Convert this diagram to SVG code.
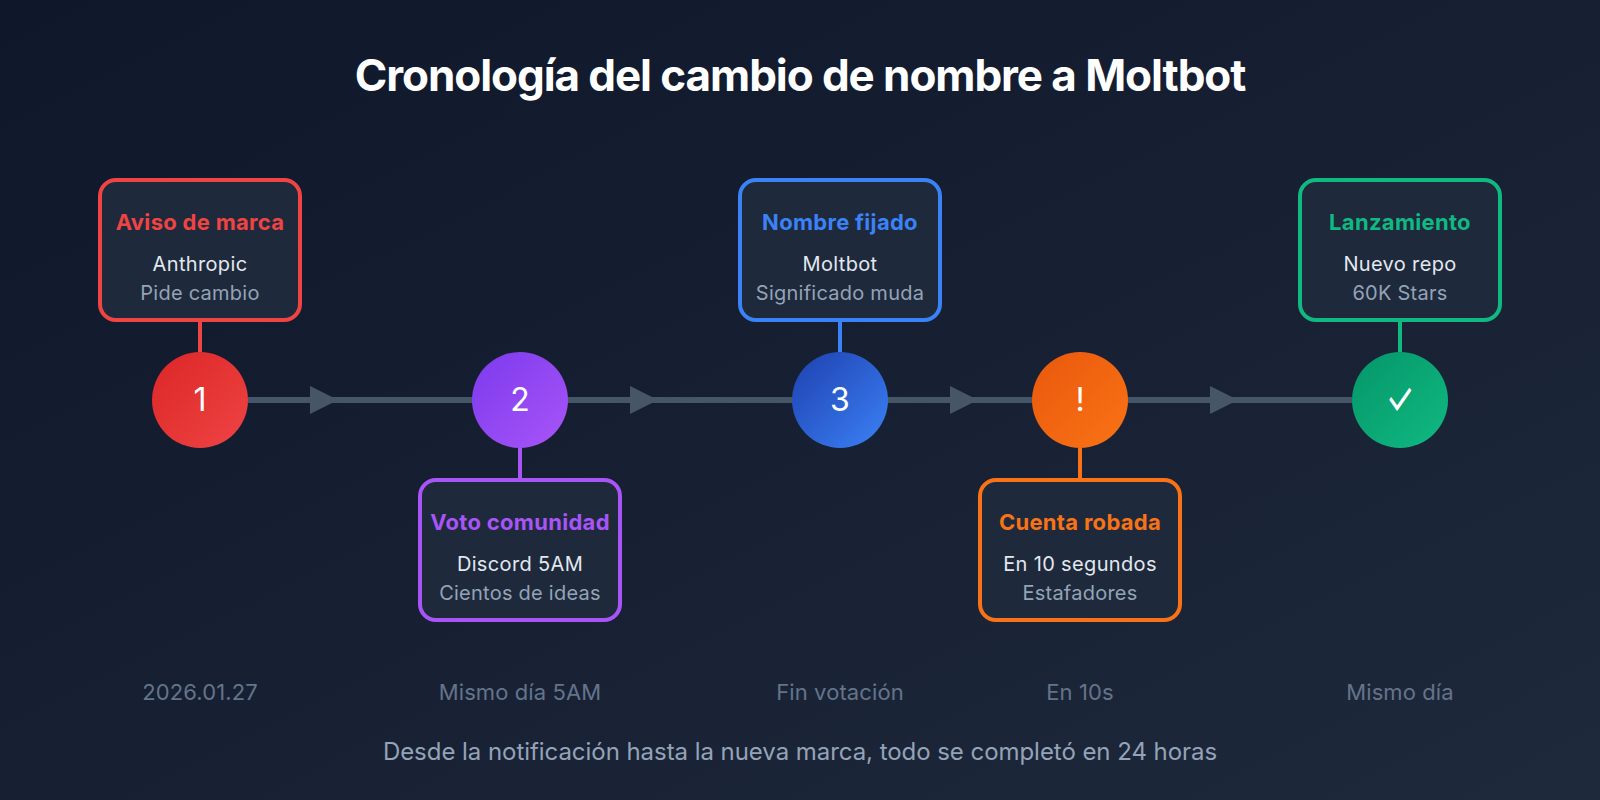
<svg xmlns="http://www.w3.org/2000/svg" width="1600" height="800" viewBox="0 0 1600 800">
<style>
text{font-family:Inter,"Noto Sans",sans-serif;text-anchor:middle}
.title{font-size:44px;font-weight:700;fill:#fff;letter-spacing:-1.07px}
.box{fill:#1e293b;stroke-width:4}
.h{font-size:22px;font-weight:700;letter-spacing:.3px}
.m{font-size:20px;fill:#e2e8f0;letter-spacing:.35px}
.s{font-size:20px;fill:#94a3b8;letter-spacing:.25px}
.num{font-size:32px;fill:#fff;font-weight:400}
.date{font-size:22px;fill:#64748b;letter-spacing:.1px}
.foot{font-size:24px;fill:#94a3b8;letter-spacing:-.05px}
.axis{stroke:#475569;stroke-width:6;fill:none}
.tip{fill:#475569}
.stem{stroke-width:4;fill:none}
</style>
<defs>
<linearGradient id="bg" x1="0" y1="0" x2="1" y2="1"><stop offset="0" stop-color="#0f172a"/><stop offset="1" stop-color="#1e293b"/></linearGradient>
<linearGradient id="g1" x1="0" y1="0" x2="1" y2="1"><stop offset="0" stop-color="#dc2626"/><stop offset="1" stop-color="#ef4444"/></linearGradient>
<linearGradient id="g2" x1="0" y1="0" x2="1" y2="1"><stop offset="0" stop-color="#7c3aed"/><stop offset="1" stop-color="#a855f7"/></linearGradient>
<linearGradient id="g3" x1="0" y1="0" x2="1" y2="1"><stop offset="0" stop-color="#1e40af"/><stop offset="1" stop-color="#3b82f6"/></linearGradient>
<linearGradient id="g4" x1="0" y1="0" x2="1" y2="1"><stop offset="0" stop-color="#ea580c"/><stop offset="1" stop-color="#f97316"/></linearGradient>
<linearGradient id="g5" x1="0" y1="0" x2="1" y2="1"><stop offset="0" stop-color="#059669"/><stop offset="1" stop-color="#10b981"/></linearGradient>
</defs>
<rect width="1600" height="800" fill="url(#bg)"/>
<text class="title" x="800" y="90.5">Cronología del cambio de nombre a Moltbot</text>
<g id="connectors">
<line class="axis" x1="248" y1="400" x2="1352" y2="400"/>
<polygon class="tip" points="310,386 338,400 310,414"/>
<polygon class="tip" points="630,386 658,400 630,414"/>
<polygon class="tip" points="950,386 978,400 950,414"/>
<polygon class="tip" points="1210,386 1238,400 1210,414"/>
<line class="stem" stroke="#ef4444" x1="200" y1="320" x2="200" y2="352"/>
<line class="stem" stroke="#a855f7" x1="520" y1="448" x2="520" y2="480"/>
<line class="stem" stroke="#3b82f6" x1="840" y1="320" x2="840" y2="352"/>
<line class="stem" stroke="#f97316" x1="1080" y1="448" x2="1080" y2="480"/>
<line class="stem" stroke="#10b981" x1="1400" y1="320" x2="1400" y2="352"/>
</g>
<g id="node1">
<rect class="box" stroke="#ef4444" x="100" y="180" width="200" height="140" rx="16"/>
<text class="h" fill="#ef4444" x="200" y="230">Aviso de marca</text>
<text class="m" x="200" y="270.5">Anthropic</text>
<text class="s" x="200" y="300">Pide cambio</text>
<circle cx="200" cy="400" r="48" fill="url(#g1)"/>
<text class="num" x="200" y="411">1</text>
</g>
<g id="node2">
<rect class="box" stroke="#a855f7" x="420" y="480" width="200" height="140" rx="16"/>
<text class="h" fill="#a855f7" x="520" y="530">Voto comunidad</text>
<text class="m" x="520" y="570.5">Discord 5AM</text>
<text class="s" x="520" y="600">Cientos de ideas</text>
<circle cx="520" cy="400" r="48" fill="url(#g2)"/>
<text class="num" x="520" y="411">2</text>
</g>
<g id="node3">
<rect class="box" stroke="#3b82f6" x="740" y="180" width="200" height="140" rx="16"/>
<text class="h" fill="#3b82f6" x="840" y="230">Nombre fijado</text>
<text class="m" x="840" y="270.5">Moltbot</text>
<text class="s" x="840" y="300">Significado muda</text>
<circle cx="840" cy="400" r="48" fill="url(#g3)"/>
<text class="num" x="840" y="411">3</text>
</g>
<g id="node4">
<rect class="box" stroke="#f97316" x="980" y="480" width="200" height="140" rx="16"/>
<text class="h" fill="#f97316" x="1080" y="530">Cuenta robada</text>
<text class="m" x="1080" y="570.5">En 10 segundos</text>
<text class="s" x="1080" y="600">Estafadores</text>
<circle cx="1080" cy="400" r="48" fill="url(#g4)"/>
<text class="num" x="1080" y="411">!</text>
</g>
<g id="node5">
<rect class="box" stroke="#10b981" x="1300" y="180" width="200" height="140" rx="16"/>
<text class="h" fill="#10b981" x="1400" y="230">Lanzamiento</text>
<text class="m" x="1400" y="270.5">Nuevo repo</text>
<text class="s" x="1400" y="300">60K Stars</text>
<circle cx="1400" cy="400" r="48" fill="url(#g5)"/>
<text class="num" transform="translate(1400 414.5) scale(1 1.45)">✓</text>
</g>
<g id="dates">
<text class="date" x="200" y="700">2026.01.27</text>
<text class="date" x="520" y="700">Mismo día 5AM</text>
<text class="date" x="840" y="700">Fin votación</text>
<text class="date" x="1080" y="700">En 10s</text>
<text class="date" x="1400" y="700">Mismo día</text>
</g>
<text class="foot" x="800" y="760">Desde la notificación hasta la nueva marca, todo se completó en 24 horas</text>
</svg>
